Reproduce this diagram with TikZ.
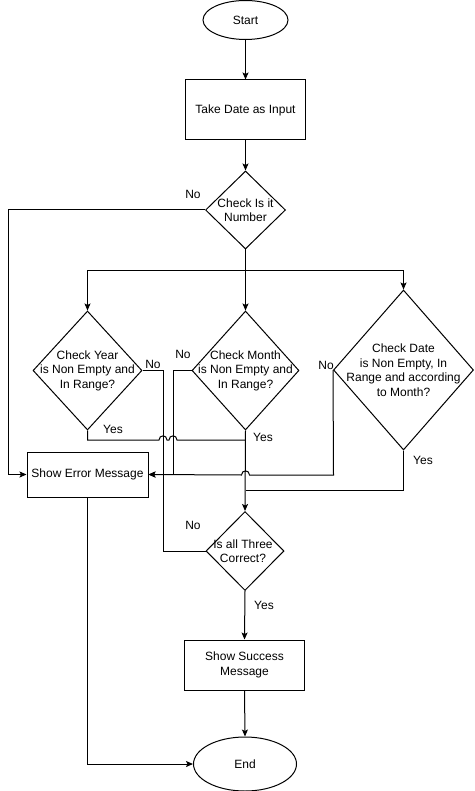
\documentclass[tikz,border=0pt]{standalone}
\usepackage{fontspec}
\setmainfont{Liberation Sans}
\usetikzlibrary{shapes.geometric,arrows.meta}
\begin{document}
\begin{tikzpicture}[x=1pt,y=-1pt,
  every node/.style={font=\fontsize{12}{14.5}\selectfont, text=black},
  line/.style={draw=black, line width=1pt},
  arr/.style={line, -{Stealth[length=7pt,width=6pt,inset=1.5pt]}},
  boxnode/.style={draw=black, line width=1pt, rectangle, inner sep=0pt},
  ovalnode/.style={draw=black, line width=1pt, ellipse, inner sep=0pt},
  dia/.style={draw=black, line width=1pt, diamond, inner sep=0pt},
  txt/.style={align=center, inner sep=0pt},
  lbl/.style={inner sep=0pt}]
\useasboundingbox (0,0) rectangle (474,791);
\fill[white] (0,0) rectangle (474,791);

% nodes
\node[ovalnode, minimum width=85pt, minimum height=39pt] (start) at (245.5,20) {Start};
\node[boxnode, minimum width=120pt, minimum height=60pt] (take) at (245.5,110) {Take Date as Input};
\node[dia, minimum width=80pt, minimum height=78pt] (num) at (245.5,210) {};
\node[txt] at (245.5,210) {Check Is it\\Number};
\node[dia, minimum width=109pt, minimum height=119pt] (year) at (87.5,370.5) {};
\node[txt] at (87.5,370.5) {Check Year\\is Non Empty and\\In Range?};
\node[dia, minimum width=107pt, minimum height=119pt] (month) at (245.5,370.5) {};
\node[txt] at (245.5,370.5) {Check Month\\is Non Empty and\\In Range?};
\node[dia, minimum width=140pt, minimum height=160pt] (date) at (403.5,370) {};
\node[txt] at (403.5,370) {Check Date\\is Non Empty, In\\Range and according\\to Month?};
\node[boxnode, minimum width=121pt, minimum height=45pt] (err) at (87.5,474.5) {Show Error Message};
\node[dia, minimum width=78pt, minimum height=79pt] (all) at (245,551) {};
\node[txt] at (243,551) {Is all Three\\Correct?};
\node[boxnode, minimum width=120pt, minimum height=50pt, align=center] (succ) at (244.5,665) {Show Success\\Message};
\node[ovalnode, minimum width=103pt, minimum height=54pt] (end) at (245,764) {End};

% connectors
\draw[arr] (start) -- (take);
\draw[arr] (take) -- (num);
\draw[arr] (num.south) -- (month.north);
\coordinate (split) at (245.5,270);
\draw[arr] (split) -| (year.north);
\draw[arr] (split) -| (date.north);
\draw[arr] (num.west) -- (8,210) |- (err.west);

% year no -> all three (plain line)
\draw[line] (year.east) -- (163,370.5) |- (all.west);
% year yes with jumps
\draw[line] (year.south) -- (87.5,440) -- (159,440)
  .. controls (159,434.5) and (167,434.5) .. (167,440) -- (169,440)
  .. controls (169,434.5) and (177,434.5) .. (177,440) -- (245.5,440);
% month no -> error
\draw[arr] (month.west) -- (173,370.5) |- (err.east);
% date no -> error with jump
\draw[arr] (date.west) -- (333.5,475) -- (249.5,475)
  .. controls (249.5,469.5) and (241.5,469.5) .. (241.5,475) -- (err.east);
% date yes
\draw[line] (date.south) -- (403.5,490) -- (245.5,490);
% month yes -> all
\draw[arr] (month.south) -- (all.north);
\draw[arr] (all.south) -- (succ.north);
\draw[arr] (succ.south) -- (end.north);
\draw[arr] (err.south) |- (end.west);

% labels
\node[lbl] at (193,194) {No};
\node[lbl] at (153,364) {No};
\node[lbl] at (183,354) {No};
\node[lbl] at (326,365) {No};
\node[lbl] at (113,429) {Yes};
\node[lbl] at (263,437) {Yes};
\node[lbl] at (423,460) {Yes};
\node[lbl] at (193,525) {No};
\node[lbl] at (264,605) {Yes};
\end{tikzpicture}
\end{document}
